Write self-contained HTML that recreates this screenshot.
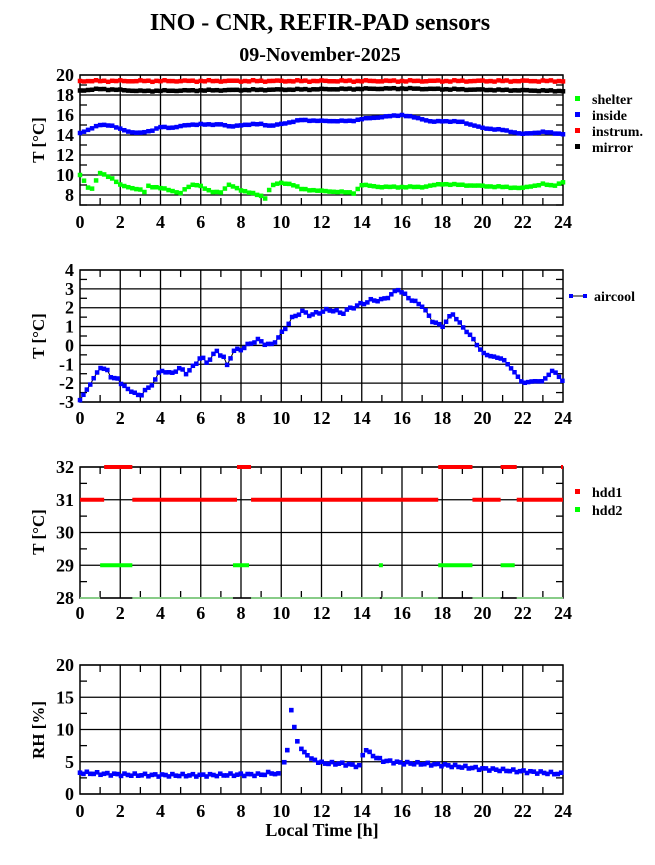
<!DOCTYPE html>
<html><head><meta charset="utf-8"><style>
body{margin:0;background:#fff}
svg text{font-family:"Liberation Serif",serif;font-weight:bold;fill:#000}
</style></head><body>
<svg id="s" width="655" height="860" xmlns="http://www.w3.org/2000/svg">
<text x="320" y="30" font-size="24" text-anchor="middle">INO - CNR, REFIR-PAD sensors</text>
<text x="320" y="61" font-size="20" text-anchor="middle">09-November-2025</text>
<text x="322" y="836" font-size="18" text-anchor="middle">Local Time [h]</text>
<g font-size="17">
<text transform="translate(44,140) rotate(-90)" text-anchor="middle">T [°C]</text>
<text transform="translate(44,336) rotate(-90)" text-anchor="middle">T [°C]</text>
<text transform="translate(44,532) rotate(-90)" text-anchor="middle">T [°C]</text>
<text transform="translate(44,730) rotate(-90)" text-anchor="middle">RH [%]</text>
</g>
<g font-size="14">
<rect x="575" y="96" width="5" height="5" fill="#0f0"/><text x="592" y="104">shelter</text>
<rect x="575" y="112" width="5" height="5" fill="#00f"/><text x="592" y="120">inside</text>
<rect x="575" y="128" width="5" height="5" fill="#f00"/><text x="592" y="136">instrum.</text>
<rect x="575" y="144" width="5" height="5" fill="#000"/><text x="592" y="152">mirror</text>
<line x1="571" y1="296" x2="585" y2="296" stroke="#000"/><rect x="569" y="294" width="4" height="4" fill="#00f"/><rect x="583" y="294" width="4" height="4" fill="#00f"/><text x="594" y="301">aircool</text>
<rect x="575" y="489" width="5" height="5" fill="#f00"/><text x="592" y="497">hdd1</text>
<rect x="575" y="507" width="5" height="5" fill="#0f0"/><text x="592" y="515">hdd2</text>
</g>
</svg>
<script>
const S=document.getElementById('s'),NS='http://www.w3.org/2000/svg';
function el(t,a,p){const e=document.createElementNS(NS,t);for(const k in a)e.setAttribute(k,a[k]);if(p!==undefined)e.textContent=p;S.appendChild(e);return e;}
const X0=80,X1=563,xs=h=>X0+(X1-X0)*h/24;
function interp(kp,h){for(let i=0;i<kp.length-1;i++){if(h>=kp[i][0]&&h<=kp[i+1][0]){const t=(h-kp[i][0])/(kp[i+1][0]-kp[i][0]||1);return kp[i][1]+t*(kp[i+1][1]-kp[i][1]);}}return kp[kp.length-1][1];}
function axes(top,bot,ymin,ymax,major,minor,labels,xlabY){
 const ys=v=>bot-(v-ymin)/(ymax-ymin)*(bot-top);
 for(let h=2;h<24;h+=2)el('line',{x1:xs(h),y1:top,x2:xs(h),y2:bot,stroke:'#000','stroke-width':1.3});
 for(let h=1;h<24;h+=2){el('line',{x1:xs(h),y1:top,x2:xs(h),y2:top+7,stroke:'#000','stroke-width':1.3});el('line',{x1:xs(h),y1:bot,x2:xs(h),y2:bot-7,stroke:'#000','stroke-width':1.3});}
 for(let v=ymin;v<=ymax+1e-9;v+=minor){const y=ys(v);const isM=Math.abs(v/major-Math.round(v/major))<1e-6;
  if(isM)el('line',{x1:X0,y1:y,x2:X1,y2:y,stroke:'#000','stroke-width':1.3});
  else{el('line',{x1:X0,y1:y,x2:X0+7,y2:y,stroke:'#000','stroke-width':1.3});el('line',{x1:X1,y1:y,x2:X1-7,y2:y,stroke:'#000','stroke-width':1.3});}}
 el('rect',{x:X0,y:top,width:X1-X0,height:bot-top,fill:'none',stroke:'#000','stroke-width':1.5});
 labels.forEach(v=>el('text',{x:X0-6,y:ys(v)+6,'font-size':18,'text-anchor':'end'},String(v)));
 for(let h=0;h<=24;h+=2)el('text',{x:xs(h),y:xlabY,'font-size':18,'text-anchor':'middle'},String(h));
 return ys;}
function dots(ys,kp,col,sz,line,step,noise){const pts=[];for(let h=0;h<=24.001;h+=step){let v=interp(kp,h)+(noise?noise*Math.sin(h*37.1)*Math.cos(h*11.3):0);pts.push([xs(h),ys(v)]);}
 if(line)el('polyline',{points:pts.map(p=>p.join(',')).join(' '),fill:'none',stroke:'#000','stroke-width':1});
 pts.forEach(p=>el('rect',{x:p[0]-sz/2,y:p[1]-sz/2,width:sz,height:sz,fill:col}));}
let y1=axes(75,205,7,20,2,1,[8,10,12,14,16,18,20],228);
dots(y1,[[0,19.4],[24,19.4]],'#f00',4.5,false,0.2,0.08);
dots(y1,[[0,18.45],[1,18.6],[3,18.4],[8,18.5],[16,18.65],[24,18.4]],'#000',4.5,false,0.2,0.06);
dots(y1,[[0,14.2],[0.5,14.6],[1,15],[1.5,15],[2,14.6],[2.5,14.3],[3,14.2],[3.5,14.4],[4,14.8],[4.5,14.7],[5,14.9],[6,15.1],[6.5,15],[7,15.1],[7.5,14.8],[8,15],[9,15.1],[9.5,14.9],[10,15.1],[11,15.5],[12,15.4],[13.5,15.4],[14,15.6],[15,15.8],[16,16],[16.5,15.8],[17,15.6],[17.5,15.3],[18,15.4],[19,15.3],[19.5,15],[20,14.7],[21,14.5],[21.5,14.3],[22,14.1],[23,14.3],[24,14.1]],'#00f',4.5,false,0.2,0.05);
dots(y1,[[0,10],[0.3,9.2],[0.5,8.3],[0.7,9],[1,10.2],[1.5,9.8],[2,9],[3,8.5],[3.2,8.3],[3.4,8.9],[4,8.7],[5,8.2],[5.3,8.7],[5.7,9.1],[6,8.9],[6.5,8.3],[7,8.3],[7.4,9],[8,8.5],[9,7.9],[9.2,7.7],[9.4,8.5],[9.6,9],[10,9.2],[10.5,9.1],[11,8.6],[12,8.4],[13,8.3],[13.6,8.2],[14,9],[15,8.8],[17,8.8],[18,9.1],[19,9],[20,8.9],[21,8.8],[22,8.7],[23,9.1],[23.5,8.9],[24,9.3]],'#0f0',4.5,false,0.2,0.06);
let y2=axes(270,402,-3,4,1,0.5,[4,3,2,1,0,-1,-2,-3],424);
dots(y2,[[0,-2.9],[0.3,-2.4],[0.5,-2.1],[0.8,-1.5],[1,-1.2],[1.4,-1.3],[1.6,-1.9],[1.8,-1.6],[2,-2.0],[2.5,-2.4],[3,-2.7],[3.2,-2.4],[3.5,-2.2],[3.8,-1.7],[4,-1.3],[4.5,-1.5],[5,-1.2],[5.3,-1.5],[5.8,-0.9],[6,-0.6],[6.3,-0.9],[6.8,-0.3],[7.2,-0.7],[7.3,-1.1],[7.6,-0.3],[8,-0.2],[8.8,0.3],[9.2,0.1],[9.5,0],[10,0.6],[10.5,1.4],[11,1.8],[11.5,1.6],[12,1.8],[12.5,1.9],[13,1.7],[13.5,2.0],[14,2.2],[14.5,2.4],[15,2.4],[15.5,2.7],[15.8,3.0],[16,2.8],[16.5,2.4],[17,2.1],[17.5,1.3],[18,1.0],[18.5,1.7],[19,1.0],[19.5,0.4],[20,-0.4],[20.5,-0.6],[21,-0.7],[21.5,-1.3],[22,-2.0],[22.5,-1.9],[23,-1.9],[23.5,-1.3],[24,-1.9]],'#00f',4.5,true,0.17,0.08);
let y3=axes(467,598,28,32,1,0.5,[32,31,30,29,28],619);
function seg(v,a,b,col,w){el('line',{x1:xs(a),y1:y3(v),x2:xs(b),y2:y3(v),stroke:col,'stroke-width':w||4});}
[[0,1],[2.6,7.6],[8.5,14.9],[15,17.8],[19.5,20.9],[21.7,24]].forEach(s=>seg(28,s[0],s[1],'#8c8',2));
[[1,2.6],[7.6,8.4],[14.85,15.05],[17.8,19.5],[20.9,21.6]].forEach(s=>seg(29,s[0],s[1],'#0f0'));
[[0,1.2],[2.6,7.8],[8.5,17.8],[19.5,20.9],[21.7,24]].forEach(s=>seg(31,s[0],s[1],'#f00'));
[[1.2,2.6],[7.8,8.5],[17.8,19.5],[20.9,21.7],[23.9,24]].forEach(s=>seg(32,s[0],s[1],'#f00'));
let y4=axes(665,794,0,20,5,2.5,[20,15,10,5,0],817);
const rh=[[0,3.3],[2,3],[4,2.9],[6,2.9],[8,3],[9,3],[9.5,3.3],[10,2.9],[10.1,4.3],[10.3,6.8],[10.5,13],[10.7,9.5],[10.85,7.5],[11,7],[11.3,6],[11.5,5.5],[12,4.8],[13,4.7],[13.5,4.5],[13.9,4.3],[14,5.7],[14.2,7],[14.4,6.3],[14.7,5.7],[15,5.2],[16,4.8],[17,4.7],[18,4.5],[19,4.2],[20,3.9],[21,3.7],[22,3.5],[23,3.3],[24,3.1]];
const hs=[];for(let h=0;h<=10.01;h+=0.17)hs.push(h);
[10.15,10.3,10.5,10.65,10.8,11,11.15,11.3,11.5].forEach(h=>hs.push(h));
for(let h=11.67;h<=24.001;h+=0.17)hs.push(h);
hs.forEach(h=>{let v=interp(rh,h)+(h<10||h>11.6?0.2*Math.sin(h*23.7):0);el('rect',{x:xs(h)-2.3,y:y4(v)-2.3,width:4.6,height:4.6,fill:'#00f'});});
</script>
</body></html>
